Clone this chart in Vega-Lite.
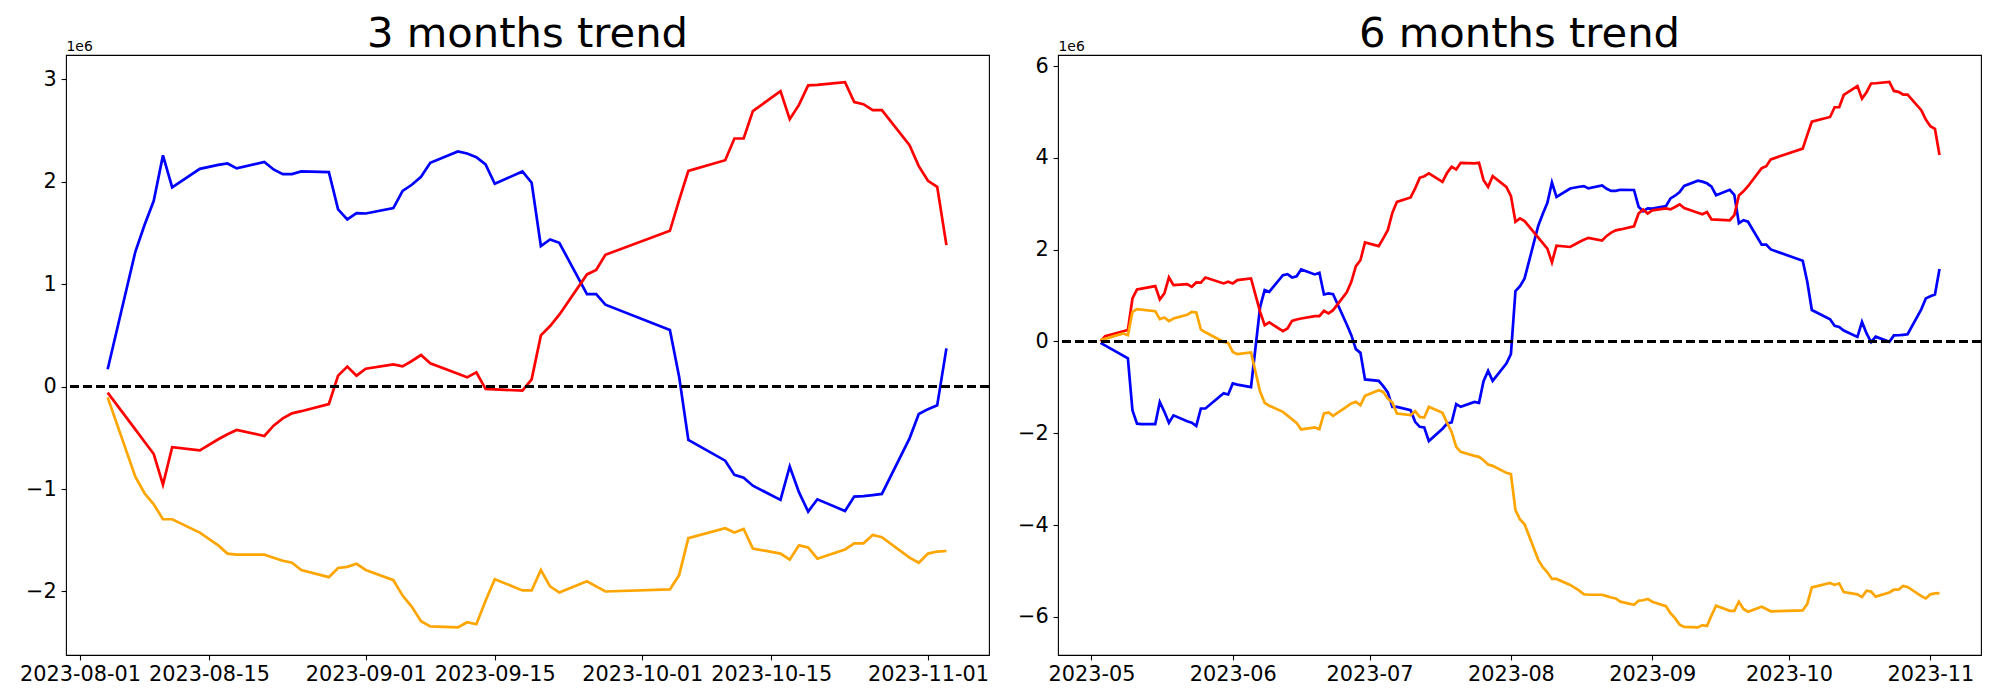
{
"$schema": "https://vega.github.io/schema/vega-lite/v6.json",
"background": "white",
"padding": {"left": 19, "top": 13, "right": 5, "bottom": 5},
"config": {
  "font": "DejaVu Sans",
  "view": {"stroke": "black", "strokeWidth": 1.1},
  "axis": {"grid": false, "domain": false, "ticks": true, "tickColor": "black", "tickWidth": 1.1, "tickSize": 4.9, "labelFont": "DejaVu Sans", "labelFontSize": 20.8, "labelColor": "black", "labelPadding": 4.9, "titleFont": "DejaVu Sans", "titleFontWeight": "normal", "titleColor": "black"},
  "title": {"font": "DejaVu Sans", "fontSize": 41.7, "fontWeight": "normal", "color": "black", "anchor": "middle", "frame": "group", "offset": -17}
},
"datasets": {
"m3": [
{"date":"2023-08-04","series":"blue","value":169000},{"date":"2023-08-07","series":"blue","value":1316000},{"date":"2023-08-08","series":"blue","value":1577000},{"date":"2023-08-09","series":"blue","value":1814000},{"date":"2023-08-10","series":"blue","value":2257000},{"date":"2023-08-11","series":"blue","value":1944000},{"date":"2023-08-14","series":"blue","value":2126000},{"date":"2023-08-16","series":"blue","value":2165000},{"date":"2023-08-17","series":"blue","value":2178000},{"date":"2023-08-18","series":"blue","value":2130000},{"date":"2023-08-21","series":"blue","value":2194000},{"date":"2023-08-22","series":"blue","value":2120000},{"date":"2023-08-23","series":"blue","value":2074000},{"date":"2023-08-24","series":"blue","value":2074000},{"date":"2023-08-25","series":"blue","value":2100000},{"date":"2023-08-28","series":"blue","value":2094000},{"date":"2023-08-29","series":"blue","value":1730000},{"date":"2023-08-30","series":"blue","value":1632000},{"date":"2023-08-31","series":"blue","value":1694000},{"date":"2023-09-01","series":"blue","value":1690000},{"date":"2023-09-04","series":"blue","value":1742000},{"date":"2023-09-05","series":"blue","value":1911000},{"date":"2023-09-06","series":"blue","value":1970000},{"date":"2023-09-07","series":"blue","value":2048000},{"date":"2023-09-08","series":"blue","value":2184000},{"date":"2023-09-11","series":"blue","value":2296000},{"date":"2023-09-12","series":"blue","value":2276000},{"date":"2023-09-13","series":"blue","value":2240000},{"date":"2023-09-14","series":"blue","value":2169000},{"date":"2023-09-15","series":"blue","value":1980000},{"date":"2023-09-18","series":"blue","value":2100000},{"date":"2023-09-19","series":"blue","value":1990000},{"date":"2023-09-20","series":"blue","value":1372000},{"date":"2023-09-21","series":"blue","value":1437000},{"date":"2023-09-22","series":"blue","value":1404000},{"date":"2023-09-25","series":"blue","value":903000},{"date":"2023-09-26","series":"blue","value":903000},{"date":"2023-09-27","series":"blue","value":800000},{"date":"2023-10-04","series":"blue","value":552000},{"date":"2023-10-05","series":"blue","value":97000},{"date":"2023-10-06","series":"blue","value":-521000},{"date":"2023-10-10","series":"blue","value":-723000},{"date":"2023-10-11","series":"blue","value":-862000},{"date":"2023-10-12","series":"blue","value":-889000},{"date":"2023-10-13","series":"blue","value":-967000},{"date":"2023-10-16","series":"blue","value":-1106000},{"date":"2023-10-17","series":"blue","value":-780000},{"date":"2023-10-18","series":"blue","value":-1030000},{"date":"2023-10-19","series":"blue","value":-1220000},{"date":"2023-10-20","series":"blue","value":-1100000},{"date":"2023-10-23","series":"blue","value":-1214000},{"date":"2023-10-24","series":"blue","value":-1074000},{"date":"2023-10-25","series":"blue","value":-1070000},{"date":"2023-10-26","series":"blue","value":-1060000},{"date":"2023-10-27","series":"blue","value":-1048000},{"date":"2023-10-30","series":"blue","value":-505000},{"date":"2023-10-31","series":"blue","value":-267000},{"date":"2023-11-01","series":"blue","value":-220000},{"date":"2023-11-02","series":"blue","value":-183000},{"date":"2023-11-03","series":"blue","value":373000},
{"date":"2023-08-04","series":"red","value":-59000},{"date":"2023-08-07","series":"red","value":-418000},{"date":"2023-08-08","series":"red","value":-538000},{"date":"2023-08-09","series":"red","value":-658000},{"date":"2023-08-10","series":"red","value":-957000},{"date":"2023-08-11","series":"red","value":-592000},{"date":"2023-08-14","series":"red","value":-622000},{"date":"2023-08-16","series":"red","value":-514000},{"date":"2023-08-17","series":"red","value":-465000},{"date":"2023-08-18","series":"red","value":-423000},{"date":"2023-08-21","series":"red","value":-482000},{"date":"2023-08-22","series":"red","value":-381000},{"date":"2023-08-23","series":"red","value":-310000},{"date":"2023-08-24","series":"red","value":-261000},{"date":"2023-08-25","series":"red","value":-240000},{"date":"2023-08-28","series":"red","value":-170000},{"date":"2023-08-29","series":"red","value":107000},{"date":"2023-08-30","series":"red","value":195000},{"date":"2023-08-31","series":"red","value":107000},{"date":"2023-09-01","series":"red","value":175000},{"date":"2023-09-04","series":"red","value":217000},{"date":"2023-09-05","series":"red","value":198000},{"date":"2023-09-06","series":"red","value":250000},{"date":"2023-09-07","series":"red","value":308000},{"date":"2023-09-08","series":"red","value":227000},{"date":"2023-09-11","series":"red","value":125000},{"date":"2023-09-12","series":"red","value":90000},{"date":"2023-09-13","series":"red","value":139000},{"date":"2023-09-14","series":"red","value":-23000},{"date":"2023-09-15","series":"red","value":-27000},{"date":"2023-09-18","series":"red","value":-40000},{"date":"2023-09-19","series":"red","value":71000},{"date":"2023-09-20","series":"red","value":500000},{"date":"2023-09-21","series":"red","value":591000},{"date":"2023-09-22","series":"red","value":702000},{"date":"2023-09-25","series":"red","value":1095000},{"date":"2023-09-26","series":"red","value":1138000},{"date":"2023-09-27","series":"red","value":1287000},{"date":"2023-10-04","series":"red","value":1521000},{"date":"2023-10-05","series":"red","value":1820000},{"date":"2023-10-06","series":"red","value":2106000},{"date":"2023-10-10","series":"red","value":2210000},{"date":"2023-10-11","series":"red","value":2422000},{"date":"2023-10-12","series":"red","value":2422000},{"date":"2023-10-13","series":"red","value":2689000},{"date":"2023-10-16","series":"red","value":2884000},{"date":"2023-10-17","series":"red","value":2610000},{"date":"2023-10-18","series":"red","value":2750000},{"date":"2023-10-19","series":"red","value":2940000},{"date":"2023-10-20","series":"red","value":2945000},{"date":"2023-10-23","series":"red","value":2972000},{"date":"2023-10-24","series":"red","value":2777000},{"date":"2023-10-25","series":"red","value":2757000},{"date":"2023-10-26","series":"red","value":2699000},{"date":"2023-10-27","series":"red","value":2699000},{"date":"2023-10-30","series":"red","value":2357000},{"date":"2023-10-31","series":"red","value":2152000},{"date":"2023-11-01","series":"red","value":2009000},{"date":"2023-11-02","series":"red","value":1950000},{"date":"2023-11-03","series":"red","value":1381000},
{"date":"2023-08-04","series":"orange","value":-105000},{"date":"2023-08-07","series":"orange","value":-879000},{"date":"2023-08-08","series":"orange","value":-1041000},{"date":"2023-08-09","series":"orange","value":-1149000},{"date":"2023-08-10","series":"orange","value":-1295000},{"date":"2023-08-11","series":"orange","value":-1295000},{"date":"2023-08-14","series":"orange","value":-1425000},{"date":"2023-08-16","series":"orange","value":-1550000},{"date":"2023-08-17","series":"orange","value":-1630000},{"date":"2023-08-18","series":"orange","value":-1640000},{"date":"2023-08-21","series":"orange","value":-1640000},{"date":"2023-08-22","series":"orange","value":-1670000},{"date":"2023-08-23","series":"orange","value":-1700000},{"date":"2023-08-24","series":"orange","value":-1720000},{"date":"2023-08-25","series":"orange","value":-1790000},{"date":"2023-08-28","series":"orange","value":-1860000},{"date":"2023-08-29","series":"orange","value":-1770000},{"date":"2023-08-30","series":"orange","value":-1760000},{"date":"2023-08-31","series":"orange","value":-1730000},{"date":"2023-09-01","series":"orange","value":-1790000},{"date":"2023-09-04","series":"orange","value":-1890000},{"date":"2023-09-05","series":"orange","value":-2040000},{"date":"2023-09-06","series":"orange","value":-2150000},{"date":"2023-09-07","series":"orange","value":-2290000},{"date":"2023-09-08","series":"orange","value":-2340000},{"date":"2023-09-11","series":"orange","value":-2350000},{"date":"2023-09-12","series":"orange","value":-2300000},{"date":"2023-09-13","series":"orange","value":-2320000},{"date":"2023-09-14","series":"orange","value":-2090000},{"date":"2023-09-15","series":"orange","value":-1880000},{"date":"2023-09-18","series":"orange","value":-1990000},{"date":"2023-09-19","series":"orange","value":-1990000},{"date":"2023-09-20","series":"orange","value":-1790000},{"date":"2023-09-21","series":"orange","value":-1950000},{"date":"2023-09-22","series":"orange","value":-2010000},{"date":"2023-09-25","series":"orange","value":-1900000},{"date":"2023-09-26","series":"orange","value":-1950000},{"date":"2023-09-27","series":"orange","value":-2000000},{"date":"2023-10-04","series":"orange","value":-1980000},{"date":"2023-10-05","series":"orange","value":-1840000},{"date":"2023-10-06","series":"orange","value":-1480000},{"date":"2023-10-10","series":"orange","value":-1383000},{"date":"2023-10-11","series":"orange","value":-1425000},{"date":"2023-10-12","series":"orange","value":-1390000},{"date":"2023-10-13","series":"orange","value":-1580000},{"date":"2023-10-16","series":"orange","value":-1630000},{"date":"2023-10-17","series":"orange","value":-1690000},{"date":"2023-10-18","series":"orange","value":-1550000},{"date":"2023-10-19","series":"orange","value":-1570000},{"date":"2023-10-20","series":"orange","value":-1680000},{"date":"2023-10-23","series":"orange","value":-1590000},{"date":"2023-10-24","series":"orange","value":-1530000},{"date":"2023-10-25","series":"orange","value":-1530000},{"date":"2023-10-26","series":"orange","value":-1448000},{"date":"2023-10-27","series":"orange","value":-1470000},{"date":"2023-10-30","series":"orange","value":-1670000},{"date":"2023-10-31","series":"orange","value":-1720000},{"date":"2023-11-01","series":"orange","value":-1630000},{"date":"2023-11-02","series":"orange","value":-1610000},{"date":"2023-11-03","series":"orange","value":-1605000}
],
"m6": [
{"date":"2023-05-03","series":"blue","value":-30000},{"date":"2023-05-09","series":"blue","value":-370000},{"date":"2023-05-10","series":"blue","value":-1500000},{"date":"2023-05-11","series":"blue","value":-1790000},{"date":"2023-05-12","series":"blue","value":-1800000},{"date":"2023-05-15","series":"blue","value":-1800000},{"date":"2023-05-16","series":"blue","value":-1320000},{"date":"2023-05-17","series":"blue","value":-1530000},{"date":"2023-05-18","series":"blue","value":-1770000},{"date":"2023-05-19","series":"blue","value":-1610000},{"date":"2023-05-22","series":"blue","value":-1740000},{"date":"2023-05-23","series":"blue","value":-1770000},{"date":"2023-05-24","series":"blue","value":-1840000},{"date":"2023-05-25","series":"blue","value":-1460000},{"date":"2023-05-26","series":"blue","value":-1460000},{"date":"2023-05-30","series":"blue","value":-1130000},{"date":"2023-05-31","series":"blue","value":-1155000},{"date":"2023-06-01","series":"blue","value":-915000},{"date":"2023-06-02","series":"blue","value":-940000},{"date":"2023-06-05","series":"blue","value":-996000},{"date":"2023-06-07","series":"blue","value":754000},{"date":"2023-06-08","series":"blue","value":1118000},{"date":"2023-06-09","series":"blue","value":1080000},{"date":"2023-06-12","series":"blue","value":1445000},{"date":"2023-06-13","series":"blue","value":1466000},{"date":"2023-06-14","series":"blue","value":1394000},{"date":"2023-06-15","series":"blue","value":1420000},{"date":"2023-06-16","series":"blue","value":1568000},{"date":"2023-06-19","series":"blue","value":1460000},{"date":"2023-06-20","series":"blue","value":1495000},{"date":"2023-06-21","series":"blue","value":1024000},{"date":"2023-06-22","series":"blue","value":1046000},{"date":"2023-06-23","series":"blue","value":1030000},{"date":"2023-06-26","series":"blue","value":370000},{"date":"2023-06-27","series":"blue","value":137000},{"date":"2023-06-28","series":"blue","value":-168000},{"date":"2023-06-29","series":"blue","value":-248000},{"date":"2023-06-30","series":"blue","value":-828000},{"date":"2023-07-03","series":"blue","value":-858000},{"date":"2023-07-04","series":"blue","value":-974000},{"date":"2023-07-05","series":"blue","value":-1110000},{"date":"2023-07-06","series":"blue","value":-1425000},{"date":"2023-07-07","series":"blue","value":-1425000},{"date":"2023-07-10","series":"blue","value":-1497000},{"date":"2023-07-11","series":"blue","value":-1750000},{"date":"2023-07-12","series":"blue","value":-1860000},{"date":"2023-07-13","series":"blue","value":-1875000},{"date":"2023-07-14","series":"blue","value":-2170000},{"date":"2023-07-17","series":"blue","value":-1900000},{"date":"2023-07-18","series":"blue","value":-1787000},{"date":"2023-07-19","series":"blue","value":-1765000},{"date":"2023-07-20","series":"blue","value":-1366000},{"date":"2023-07-21","series":"blue","value":-1425000},{"date":"2023-07-24","series":"blue","value":-1316000},{"date":"2023-07-25","series":"blue","value":-1338000},{"date":"2023-07-26","series":"blue","value":-865000},{"date":"2023-07-27","series":"blue","value":-640000},{"date":"2023-07-28","series":"blue","value":-858000},{"date":"2023-07-31","series":"blue","value":-480000},{"date":"2023-08-01","series":"blue","value":-277000},{"date":"2023-08-02","series":"blue","value":1100000},{"date":"2023-08-03","series":"blue","value":1205000},{"date":"2023-08-04","series":"blue","value":1374000},{"date":"2023-08-07","series":"blue","value":2521000},{"date":"2023-08-08","series":"blue","value":2782000},{"date":"2023-08-09","series":"blue","value":3019000},{"date":"2023-08-10","series":"blue","value":3462000},{"date":"2023-08-11","series":"blue","value":3149000},{"date":"2023-08-14","series":"blue","value":3331000},{"date":"2023-08-16","series":"blue","value":3370000},{"date":"2023-08-17","series":"blue","value":3383000},{"date":"2023-08-18","series":"blue","value":3335000},{"date":"2023-08-21","series":"blue","value":3399000},{"date":"2023-08-22","series":"blue","value":3325000},{"date":"2023-08-23","series":"blue","value":3279000},{"date":"2023-08-24","series":"blue","value":3279000},{"date":"2023-08-25","series":"blue","value":3305000},{"date":"2023-08-28","series":"blue","value":3299000},{"date":"2023-08-29","series":"blue","value":2935000},{"date":"2023-08-30","series":"blue","value":2837000},{"date":"2023-08-31","series":"blue","value":2899000},{"date":"2023-09-01","series":"blue","value":2895000},{"date":"2023-09-04","series":"blue","value":2947000},{"date":"2023-09-05","series":"blue","value":3116000},{"date":"2023-09-06","series":"blue","value":3175000},{"date":"2023-09-07","series":"blue","value":3253000},{"date":"2023-09-08","series":"blue","value":3389000},{"date":"2023-09-11","series":"blue","value":3501000},{"date":"2023-09-12","series":"blue","value":3481000},{"date":"2023-09-13","series":"blue","value":3445000},{"date":"2023-09-14","series":"blue","value":3374000},{"date":"2023-09-15","series":"blue","value":3185000},{"date":"2023-09-18","series":"blue","value":3305000},{"date":"2023-09-19","series":"blue","value":3195000},{"date":"2023-09-20","series":"blue","value":2577000},{"date":"2023-09-21","series":"blue","value":2642000},{"date":"2023-09-22","series":"blue","value":2609000},{"date":"2023-09-25","series":"blue","value":2108000},{"date":"2023-09-26","series":"blue","value":2108000},{"date":"2023-09-27","series":"blue","value":2005000},{"date":"2023-10-04","series":"blue","value":1757000},{"date":"2023-10-05","series":"blue","value":1302000},{"date":"2023-10-06","series":"blue","value":684000},{"date":"2023-10-10","series":"blue","value":482000},{"date":"2023-10-11","series":"blue","value":343000},{"date":"2023-10-12","series":"blue","value":316000},{"date":"2023-10-13","series":"blue","value":238000},{"date":"2023-10-16","series":"blue","value":99000},{"date":"2023-10-17","series":"blue","value":425000},{"date":"2023-10-18","series":"blue","value":175000},{"date":"2023-10-19","series":"blue","value":-15000},{"date":"2023-10-20","series":"blue","value":105000},{"date":"2023-10-23","series":"blue","value":-9000},{"date":"2023-10-24","series":"blue","value":131000},{"date":"2023-10-25","series":"blue","value":135000},{"date":"2023-10-26","series":"blue","value":145000},{"date":"2023-10-27","series":"blue","value":157000},{"date":"2023-10-30","series":"blue","value":700000},{"date":"2023-10-31","series":"blue","value":938000},{"date":"2023-11-01","series":"blue","value":985000},{"date":"2023-11-02","series":"blue","value":1022000},{"date":"2023-11-03","series":"blue","value":1578000},
{"date":"2023-05-03","series":"red","value":0},{"date":"2023-05-04","series":"red","value":115000},{"date":"2023-05-09","series":"red","value":250000},{"date":"2023-05-10","series":"red","value":937000},{"date":"2023-05-11","series":"red","value":1133000},{"date":"2023-05-12","series":"red","value":1150000},{"date":"2023-05-15","series":"red","value":1205000},{"date":"2023-05-16","series":"red","value":915000},{"date":"2023-05-17","series":"red","value":1046000},{"date":"2023-05-18","series":"red","value":1394000},{"date":"2023-05-19","series":"red","value":1227000},{"date":"2023-05-22","series":"red","value":1248000},{"date":"2023-05-23","series":"red","value":1190000},{"date":"2023-05-24","series":"red","value":1285000},{"date":"2023-05-25","series":"red","value":1280000},{"date":"2023-05-26","series":"red","value":1394000},{"date":"2023-05-30","series":"red","value":1264000},{"date":"2023-05-31","series":"red","value":1300000},{"date":"2023-06-01","series":"red","value":1264000},{"date":"2023-06-02","series":"red","value":1335000},{"date":"2023-06-05","series":"red","value":1372000},{"date":"2023-06-07","series":"red","value":645000},{"date":"2023-06-08","series":"red","value":355000},{"date":"2023-06-09","series":"red","value":414000},{"date":"2023-06-12","series":"red","value":224000},{"date":"2023-06-13","series":"red","value":283000},{"date":"2023-06-14","series":"red","value":449000},{"date":"2023-06-15","series":"red","value":479000},{"date":"2023-06-16","series":"red","value":500000},{"date":"2023-06-19","series":"red","value":551000},{"date":"2023-06-20","series":"red","value":551000},{"date":"2023-06-21","series":"red","value":667000},{"date":"2023-06-22","series":"red","value":610000},{"date":"2023-06-23","series":"red","value":682000},{"date":"2023-06-26","series":"red","value":1070000},{"date":"2023-06-27","series":"red","value":1300000},{"date":"2023-06-28","series":"red","value":1640000},{"date":"2023-06-29","series":"red","value":1770000},{"date":"2023-06-30","series":"red","value":2157000},{"date":"2023-07-03","series":"red","value":2077000},{"date":"2023-07-04","series":"red","value":2244000},{"date":"2023-07-05","series":"red","value":2425000},{"date":"2023-07-06","series":"red","value":2802000},{"date":"2023-07-07","series":"red","value":3041000},{"date":"2023-07-10","series":"red","value":3137000},{"date":"2023-07-11","series":"red","value":3333000},{"date":"2023-07-12","series":"red","value":3564000},{"date":"2023-07-13","series":"red","value":3600000},{"date":"2023-07-14","series":"red","value":3660000},{"date":"2023-07-17","series":"red","value":3477000},{"date":"2023-07-18","series":"red","value":3673000},{"date":"2023-07-19","series":"red","value":3804000},{"date":"2023-07-20","series":"red","value":3747000},{"date":"2023-07-21","series":"red","value":3891000},{"date":"2023-07-24","series":"red","value":3878000},{"date":"2023-07-25","series":"red","value":3891000},{"date":"2023-07-26","series":"red","value":3514000},{"date":"2023-07-27","series":"red","value":3368000},{"date":"2023-07-28","series":"red","value":3600000},{"date":"2023-07-31","series":"red","value":3368000},{"date":"2023-08-01","series":"red","value":3172000},{"date":"2023-08-02","series":"red","value":2606000},{"date":"2023-08-03","series":"red","value":2680000},{"date":"2023-08-04","series":"red","value":2621000},{"date":"2023-08-07","series":"red","value":2262000},{"date":"2023-08-08","series":"red","value":2142000},{"date":"2023-08-09","series":"red","value":2022000},{"date":"2023-08-10","series":"red","value":1723000},{"date":"2023-08-11","series":"red","value":2088000},{"date":"2023-08-14","series":"red","value":2058000},{"date":"2023-08-16","series":"red","value":2166000},{"date":"2023-08-17","series":"red","value":2215000},{"date":"2023-08-18","series":"red","value":2257000},{"date":"2023-08-21","series":"red","value":2198000},{"date":"2023-08-22","series":"red","value":2299000},{"date":"2023-08-23","series":"red","value":2370000},{"date":"2023-08-24","series":"red","value":2419000},{"date":"2023-08-25","series":"red","value":2440000},{"date":"2023-08-28","series":"red","value":2510000},{"date":"2023-08-29","series":"red","value":2787000},{"date":"2023-08-30","series":"red","value":2875000},{"date":"2023-08-31","series":"red","value":2787000},{"date":"2023-09-01","series":"red","value":2855000},{"date":"2023-09-04","series":"red","value":2897000},{"date":"2023-09-05","series":"red","value":2878000},{"date":"2023-09-06","series":"red","value":2930000},{"date":"2023-09-07","series":"red","value":2988000},{"date":"2023-09-08","series":"red","value":2907000},{"date":"2023-09-11","series":"red","value":2805000},{"date":"2023-09-12","series":"red","value":2770000},{"date":"2023-09-13","series":"red","value":2819000},{"date":"2023-09-14","series":"red","value":2657000},{"date":"2023-09-15","series":"red","value":2653000},{"date":"2023-09-18","series":"red","value":2640000},{"date":"2023-09-19","series":"red","value":2751000},{"date":"2023-09-20","series":"red","value":3180000},{"date":"2023-09-21","series":"red","value":3271000},{"date":"2023-09-22","series":"red","value":3382000},{"date":"2023-09-25","series":"red","value":3775000},{"date":"2023-09-26","series":"red","value":3818000},{"date":"2023-09-27","series":"red","value":3967000},{"date":"2023-10-04","series":"red","value":4201000},{"date":"2023-10-05","series":"red","value":4500000},{"date":"2023-10-06","series":"red","value":4786000},{"date":"2023-10-10","series":"red","value":4890000},{"date":"2023-10-11","series":"red","value":5102000},{"date":"2023-10-12","series":"red","value":5102000},{"date":"2023-10-13","series":"red","value":5369000},{"date":"2023-10-16","series":"red","value":5564000},{"date":"2023-10-17","series":"red","value":5290000},{"date":"2023-10-18","series":"red","value":5430000},{"date":"2023-10-19","series":"red","value":5620000},{"date":"2023-10-20","series":"red","value":5625000},{"date":"2023-10-23","series":"red","value":5652000},{"date":"2023-10-24","series":"red","value":5457000},{"date":"2023-10-25","series":"red","value":5437000},{"date":"2023-10-26","series":"red","value":5379000},{"date":"2023-10-27","series":"red","value":5379000},{"date":"2023-10-30","series":"red","value":5037000},{"date":"2023-10-31","series":"red","value":4832000},{"date":"2023-11-01","series":"red","value":4689000},{"date":"2023-11-02","series":"red","value":4630000},{"date":"2023-11-03","series":"red","value":4061000},
{"date":"2023-05-03","series":"orange","value":30000},{"date":"2023-05-08","series":"orange","value":174000},{"date":"2023-05-09","series":"orange","value":137000},{"date":"2023-05-10","series":"orange","value":645000},{"date":"2023-05-11","series":"orange","value":704000},{"date":"2023-05-15","series":"orange","value":660000},{"date":"2023-05-16","series":"orange","value":486000},{"date":"2023-05-17","series":"orange","value":523000},{"date":"2023-05-18","series":"orange","value":442000},{"date":"2023-05-19","series":"orange","value":500000},{"date":"2023-05-22","series":"orange","value":580000},{"date":"2023-05-23","series":"orange","value":645000},{"date":"2023-05-24","series":"orange","value":632000},{"date":"2023-05-25","series":"orange","value":261000},{"date":"2023-05-26","series":"orange","value":200000},{"date":"2023-05-30","series":"orange","value":-9000},{"date":"2023-05-31","series":"orange","value":-30000},{"date":"2023-06-01","series":"orange","value":-227000},{"date":"2023-06-02","series":"orange","value":-277000},{"date":"2023-06-05","series":"orange","value":-240000},{"date":"2023-06-07","series":"orange","value":-1098000},{"date":"2023-06-08","series":"orange","value":-1338000},{"date":"2023-06-09","series":"orange","value":-1400000},{"date":"2023-06-12","series":"orange","value":-1534000},{"date":"2023-06-15","series":"orange","value":-1773000},{"date":"2023-06-16","series":"orange","value":-1917000},{"date":"2023-06-19","series":"orange","value":-1874000},{"date":"2023-06-20","series":"orange","value":-1910000},{"date":"2023-06-21","series":"orange","value":-1569000},{"date":"2023-06-22","series":"orange","value":-1547000},{"date":"2023-06-23","series":"orange","value":-1620000},{"date":"2023-06-26","series":"orange","value":-1420000},{"date":"2023-06-27","series":"orange","value":-1351000},{"date":"2023-06-28","series":"orange","value":-1316000},{"date":"2023-06-29","series":"orange","value":-1388000},{"date":"2023-06-30","series":"orange","value":-1185000},{"date":"2023-07-03","series":"orange","value":-1061000},{"date":"2023-07-04","series":"orange","value":-1098000},{"date":"2023-07-05","series":"orange","value":-1242000},{"date":"2023-07-06","series":"orange","value":-1329000},{"date":"2023-07-07","series":"orange","value":-1569000},{"date":"2023-07-10","series":"orange","value":-1606000},{"date":"2023-07-11","series":"orange","value":-1519000},{"date":"2023-07-12","series":"orange","value":-1643000},{"date":"2023-07-13","series":"orange","value":-1656000},{"date":"2023-07-14","series":"orange","value":-1425000},{"date":"2023-07-17","series":"orange","value":-1556000},{"date":"2023-07-18","series":"orange","value":-1773000},{"date":"2023-07-19","series":"orange","value":-1970000},{"date":"2023-07-20","series":"orange","value":-2296000},{"date":"2023-07-21","series":"orange","value":-2405000},{"date":"2023-07-24","series":"orange","value":-2492000},{"date":"2023-07-25","series":"orange","value":-2514000},{"date":"2023-07-26","series":"orange","value":-2586000},{"date":"2023-07-27","series":"orange","value":-2680000},{"date":"2023-07-28","series":"orange","value":-2710000},{"date":"2023-07-31","series":"orange","value":-2862000},{"date":"2023-08-01","series":"orange","value":-2890000},{"date":"2023-08-02","series":"orange","value":-3675000},{"date":"2023-08-03","series":"orange","value":-3878000},{"date":"2023-08-04","series":"orange","value":-3983000},{"date":"2023-08-07","series":"orange","value":-4757000},{"date":"2023-08-08","series":"orange","value":-4919000},{"date":"2023-08-09","series":"orange","value":-5027000},{"date":"2023-08-10","series":"orange","value":-5173000},{"date":"2023-08-11","series":"orange","value":-5173000},{"date":"2023-08-14","series":"orange","value":-5303000},{"date":"2023-08-16","series":"orange","value":-5428000},{"date":"2023-08-17","series":"orange","value":-5508000},{"date":"2023-08-18","series":"orange","value":-5518000},{"date":"2023-08-21","series":"orange","value":-5518000},{"date":"2023-08-22","series":"orange","value":-5548000},{"date":"2023-08-23","series":"orange","value":-5578000},{"date":"2023-08-24","series":"orange","value":-5598000},{"date":"2023-08-25","series":"orange","value":-5668000},{"date":"2023-08-28","series":"orange","value":-5738000},{"date":"2023-08-29","series":"orange","value":-5648000},{"date":"2023-08-30","series":"orange","value":-5638000},{"date":"2023-08-31","series":"orange","value":-5608000},{"date":"2023-09-01","series":"orange","value":-5668000},{"date":"2023-09-04","series":"orange","value":-5768000},{"date":"2023-09-05","series":"orange","value":-5918000},{"date":"2023-09-06","series":"orange","value":-6028000},{"date":"2023-09-07","series":"orange","value":-6168000},{"date":"2023-09-08","series":"orange","value":-6218000},{"date":"2023-09-11","series":"orange","value":-6228000},{"date":"2023-09-12","series":"orange","value":-6178000},{"date":"2023-09-13","series":"orange","value":-6198000},{"date":"2023-09-14","series":"orange","value":-5968000},{"date":"2023-09-15","series":"orange","value":-5758000},{"date":"2023-09-18","series":"orange","value":-5868000},{"date":"2023-09-19","series":"orange","value":-5868000},{"date":"2023-09-20","series":"orange","value":-5668000},{"date":"2023-09-21","series":"orange","value":-5828000},{"date":"2023-09-22","series":"orange","value":-5888000},{"date":"2023-09-25","series":"orange","value":-5778000},{"date":"2023-09-26","series":"orange","value":-5828000},{"date":"2023-09-27","series":"orange","value":-5878000},{"date":"2023-10-04","series":"orange","value":-5858000},{"date":"2023-10-05","series":"orange","value":-5718000},{"date":"2023-10-06","series":"orange","value":-5358000},{"date":"2023-10-10","series":"orange","value":-5261000},{"date":"2023-10-11","series":"orange","value":-5303000},{"date":"2023-10-12","series":"orange","value":-5268000},{"date":"2023-10-13","series":"orange","value":-5458000},{"date":"2023-10-16","series":"orange","value":-5508000},{"date":"2023-10-17","series":"orange","value":-5568000},{"date":"2023-10-18","series":"orange","value":-5428000},{"date":"2023-10-19","series":"orange","value":-5448000},{"date":"2023-10-20","series":"orange","value":-5558000},{"date":"2023-10-23","series":"orange","value":-5468000},{"date":"2023-10-24","series":"orange","value":-5408000},{"date":"2023-10-25","series":"orange","value":-5408000},{"date":"2023-10-26","series":"orange","value":-5326000},{"date":"2023-10-27","series":"orange","value":-5348000},{"date":"2023-10-30","series":"orange","value":-5548000},{"date":"2023-10-31","series":"orange","value":-5598000},{"date":"2023-11-01","series":"orange","value":-5508000},{"date":"2023-11-02","series":"orange","value":-5488000},{"date":"2023-11-03","series":"orange","value":-5483000}
]
},
"spacing": 69,
"bounds": "flush",
"hconcat": [
{
  "title": "3 months trend",
  "width": 923, "height": 600,
  "data": {"name": "m3"},
  "layer": [
    {"mark": {"type": "line", "strokeWidth": 2.7, "clip": true},
     "encoding": {
       "x": {"field": "date", "type": "temporal",
             "scale": {"type": "utc", "domain": [1690716672000, 1699368768000], "nice": false},
             "axis": {"values": [1690848000000, 1692057600000, 1693526400000, 1694736000000, 1696118400000, 1697328000000, 1698796800000], "labelExpr": "utcFormat(datum.value, '%Y-%m-%d')", "title": null, "labelFlush": false, "labelOverlap": false, "labelBound": false}},
       "y": {"field": "value", "type": "quantitative",
             "scale": {"domain": [-2620000, 3237000], "nice": false, "zero": false},
             "axis": {"values": [-2000000, -1000000, 0, 1000000, 2000000, 3000000], "labelExpr": "format(datum.value/1000000, 'd')", "title": "1e6", "titleAngle": 0, "titleX": 0, "titleY": -5, "titleAlign": "left", "titleBaseline": "alphabetic", "titleFontSize": 13.9}},
       "color": {"field": "series", "type": "nominal", "scale": {"domain": ["blue", "red", "orange"], "range": ["#0000ff", "#ff0000", "#ffa500"]}, "legend": null}
     }},
    {"mark": {"type": "rule", "color": "black", "strokeDash": [9, 4], "strokeWidth": 2.1},
     "encoding": {"y": {"datum": 0}}}
  ]
},
{
  "title": "6 months trend",
  "width": 923, "height": 600,
  "data": {"name": "m6"},
  "layer": [
    {"mark": {"type": "line", "strokeWidth": 2.7, "clip": true},
     "encoding": {
       "x": {"field": "date", "type": "temporal",
             "scale": {"type": "utc", "domain": [1682265888000, 1699755840000], "nice": false},
             "axis": {"values": [1682899200000, 1685577600000, 1688169600000, 1690848000000, 1693526400000, 1696118400000, 1698796800000], "labelExpr": "utcFormat(datum.value, '%Y-%m')", "title": null, "labelFlush": false, "labelOverlap": false, "labelBound": false}},
       "y": {"field": "value", "type": "quantitative",
             "scale": {"domain": [-6830000, 6240000], "nice": false, "zero": false},
             "axis": {"values": [-6000000, -4000000, -2000000, 0, 2000000, 4000000, 6000000], "labelExpr": "format(datum.value/1000000, 'd')", "title": "1e6", "titleAngle": 0, "titleX": 0, "titleY": -5, "titleAlign": "left", "titleBaseline": "alphabetic", "titleFontSize": 13.9}},
       "color": {"field": "series", "type": "nominal", "scale": {"domain": ["blue", "red", "orange"], "range": ["#0000ff", "#ff0000", "#ffa500"]}, "legend": null}
     }},
    {"mark": {"type": "rule", "color": "black", "strokeDash": [9, 4], "strokeWidth": 2.1},
     "encoding": {"y": {"datum": 0}}}
  ]
}
]
}
